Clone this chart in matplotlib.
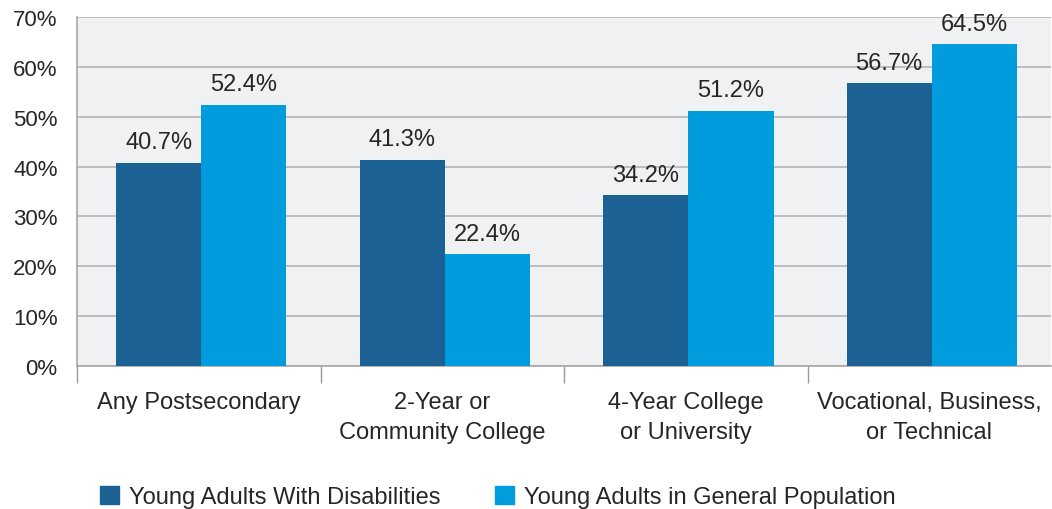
import matplotlib.pyplot as plt
import numpy as np
from matplotlib.patches import Patch

categories = ["Any Postsecondary", "2-Year or\nCommunity College",
              "4-Year College\nor University", "Vocational, Business,\nor Technical"]
disabilities = [40.7, 41.3, 34.2, 56.7]
general = [52.4, 22.4, 51.2, 64.5]
series_names = ["Young Adults With Disabilities", "Young Adults in General Population"]

dark = "#1b6194"
light = "#009cde"
txt = "#262626"

plt.rcParams["font.family"] = ["Liberation Sans", "DejaVu Sans"]
plt.rcParams["font.size"] = 17

fig = plt.figure(figsize=(10.52, 5.10), dpi=100)
ax = fig.add_axes([0.0732, 0.2804, 0.926, 0.6843])
ax.set_facecolor("#f0f1f3")

x = np.arange(len(categories))
w = 0.35
b1 = ax.bar(x - w / 2 + 0.01, disabilities, w, color=dark, zorder=3)
b2 = ax.bar(x + w / 2 + 0.01, general, w, color=light, zorder=3)

for bars, vals in ((b1, disabilities), (b2, general)):
    for r, v in zip(bars, vals):
        ax.annotate(f"{v:.1f}%", (r.get_x() + r.get_width() / 2, v),
                    xytext=(0, 7), textcoords="offset points",
                    ha="center", va="bottom", color=txt)

ax.set_xlim(-0.5, 3.5)
ax.set_ylim(0, 70)
ax.set_yticks(range(0, 71, 10))
ax.set_yticklabels([f"{t}%" for t in range(0, 71, 10)], color=txt, fontsize=16)
ax.yaxis.grid(True, color="#b4b4b4", linewidth=1.2, zorder=0)
ax.tick_params(axis="y", length=0, pad=14)

ax.set_xticks(x)
ax.set_xticklabels(categories, color=txt, linespacing=1.45)
ax.set_xticks(np.arange(-0.5, 2.6, 1), minor=True)
ax.tick_params(axis="x", which="major", length=0, pad=18)
ax.tick_params(axis="x", which="minor", length=12, color="#9a9a9a", width=1)

for s in ("top", "right"):
    ax.spines[s].set_visible(False)
for s in ("left", "bottom"):
    ax.spines[s].set_color("#a8a8a8")
    ax.spines[s].set_linewidth(1.2)

handles = [Patch(color=dark), Patch(color=light)]
fig.legend(handles, series_names, loc="lower left", bbox_to_anchor=(0.075, -0.04),
           ncol=2, frameon=False, handlelength=0.8, handleheight=0.8,
           handletextpad=0.42, columnspacing=2.3, labelcolor=txt)

fig.savefig("out.png", dpi=100)
